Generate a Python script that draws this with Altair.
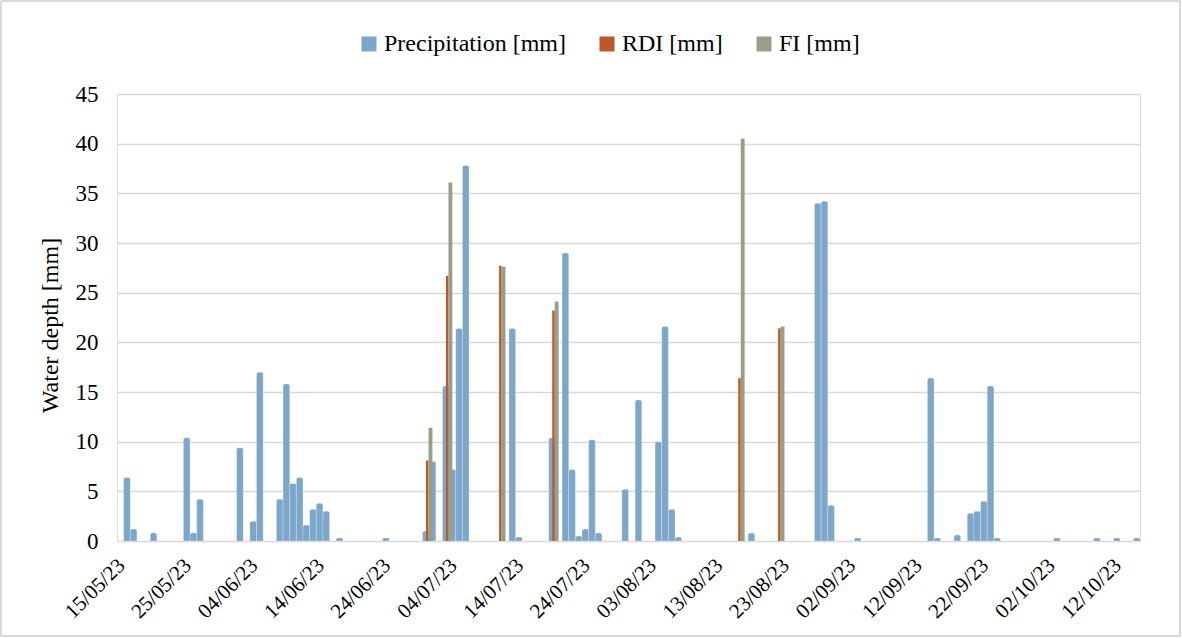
import altair as alt
import pandas as pd

# ---------------- data ----------------
start_date = "15/05/23"
end_date = "15/10/23"

precip_dates = [
    "16/05/23", "17/05/23", "20/05/23", "25/05/23", "26/05/23", "27/05/23",
    "02/06/23", "04/06/23", "05/06/23", "08/06/23", "09/06/23", "10/06/23",
    "11/06/23", "12/06/23", "13/06/23", "14/06/23", "15/06/23", "17/06/23",
    "24/06/23", "30/06/23", "01/07/23", "03/07/23", "04/07/23", "05/07/23",
    "06/07/23", "13/07/23", "14/07/23", "19/07/23", "21/07/23", "22/07/23",
    "23/07/23", "24/07/23", "25/07/23", "26/07/23", "30/07/23", "01/08/23",
    "04/08/23", "05/08/23", "06/08/23", "07/08/23", "18/08/23", "28/08/23",
    "29/08/23", "30/08/23", "03/09/23", "14/09/23", "15/09/23", "18/09/23",
    "20/09/23", "21/09/23", "22/09/23", "23/09/23", "24/09/23", "03/10/23",
    "09/10/23", "12/10/23", "15/10/23",
]
precip_values = [
    6.4, 1.2, 0.8, 10.4, 0.8, 4.2,
    9.4, 2.0, 17.0, 4.2, 15.8, 5.8,
    6.4, 1.6, 3.2, 3.8, 3.0, 0.3,
    0.3, 1.0, 8.0, 15.6, 7.2, 21.4,
    37.8, 21.4, 0.4, 10.4, 29.0, 7.2,
    0.5, 1.2, 10.2, 0.8, 5.2, 14.2,
    10.0, 21.6, 3.2, 0.4, 0.8, 34.0,
    34.2, 3.6, 0.3, 16.4, 0.3, 0.6,
    2.8, 3.0, 4.0, 15.6, 0.3, 0.3,
    0.3, 0.3, 0.3,
]

rdi_dates = ["30/06/23", "03/07/23", "11/07/23", "19/07/23", "16/08/23", "22/08/23"]
rdi_values = [8.1, 26.7, 27.7, 23.2, 16.4, 21.4]

fi_dates = ["30/06/23", "03/07/23", "11/07/23", "19/07/23", "16/08/23", "22/08/23"]
fi_values = [11.4, 36.1, 27.6, 24.1, 40.5, 21.6]

series_names = ["Precipitation [mm]", "RDI [mm]", "FI [mm]"]
series_colors = ["#7DA7CA", "#C0562A", "#95A087"]

tick_labels = [
    "15/05/23", "25/05/23", "04/06/23", "14/06/23", "24/06/23", "04/07/23",
    "14/07/23", "24/07/23", "03/08/23", "13/08/23", "23/08/23", "02/09/23",
    "12/09/23", "22/09/23", "02/10/23", "12/10/23",
]
y_ticks = [0, 5, 10, 15, 20, 25, 30, 35, 40, 45]

# ---------------- build tables ----------------
t0 = pd.to_datetime(start_date, format="%d/%m/%y")
n_days = (pd.to_datetime(end_date, format="%d/%m/%y") - t0).days + 1


def table(dates, values, name):
    d = pd.to_datetime(pd.Series(dates), format="%d/%m/%y")
    return pd.DataFrame({"series": name, "idx": (d - t0).dt.days, "value": values})


precip_df = table(precip_dates, precip_values, series_names[0])
rdi_df = table(rdi_dates, rdi_values, series_names[1])
fi_df = table(fi_dates, fi_values, series_names[2])

FONT = "Liberation Serif, Times New Roman, serif"
FS = 24
label_arr = "[" + ",".join("'%s'" % t for t in tick_labels) + "]"

x_scale = alt.Scale(domain=[-0.5, n_days - 0.5], nice=False, zero=False)
y_scale = alt.Scale(domain=[0, 45], nice=False)

color = alt.Color(
    "series:N",
    scale=alt.Scale(domain=series_names, range=series_colors),
    legend=alt.Legend(
        title=None, orient="none", direction="horizontal",
        legendX=240, legendY=-62,
        symbolType="square", symbolSize=225, symbolStrokeWidth=0,
        labelFont=FONT, labelFontSize=FS, labelColor="#000000", labelLimit=400,
        labelOffset=3, columnPadding=29,
    ),
)

x_axis = alt.Axis(
    values=list(range(0, 10 * len(tick_labels), 10)),
    labelExpr=label_arr + "[round(datum.value / 10)]",
    labelAngle=-45, labelAlign="right", labelBaseline="middle",
    labelPadding=21, labelOffset=1, labelFont=FONT, labelFontSize=21,
    labelColor="#000000", labelOverlap=False, labelFlush=False, labelBound=False,
    ticks=False, tickSize=0, domain=False, grid=False, title=None,
)
y_axis = alt.Axis(
    values=y_ticks, grid=True, gridColor="#D9D9D9", gridWidth=1.5,
    ticks=False, tickSize=0, domain=False,
    labelFont=FONT, labelFontSize=23, labelColor="#000000", labelPadding=19,
    title="Water depth [mm]", titleFont=FONT, titleFontSize=FS,
    titleFontWeight="normal", titleColor="#000000",
    titleAngle=270, titleX=-67, titleY=231, titleAlign="center",
    titleBaseline="middle",
)

precip = (
    alt.Chart(precip_df)
    .transform_calculate(x0="datum.idx - 0.5", x1="datum.idx + 0.5")
    .mark_bar(cornerRadiusTopLeft=2, cornerRadiusTopRight=2, stroke="#FFFFFF",
              strokeWidth=0.4, strokeOpacity=0.6)
    .encode(
        x=alt.X("x0:Q", scale=x_scale, axis=x_axis),
        x2="x1:Q",
        y=alt.Y("value:Q", scale=y_scale, axis=y_axis, stack=None),
        y2=alt.datum(0),
        color=color,
    )
)

rdi = (
    alt.Chart(rdi_df)
    .transform_calculate(x0="datum.idx + 0.02", x1="datum.idx + 0.4")
    .mark_bar()
    .encode(
        x=alt.X("x0:Q", scale=x_scale),
        x2="x1:Q",
        y=alt.Y("value:Q", scale=y_scale, stack=None),
        y2=alt.datum(0),
        color=color,
    )
)

fi = (
    alt.Chart(fi_df)
    .transform_calculate(x0="datum.idx + 0.4", x1="datum.idx + 0.98")
    .mark_bar()
    .encode(
        x=alt.X("x0:Q", scale=x_scale),
        x2="x1:Q",
        y=alt.Y("value:Q", scale=y_scale, stack=None),
        y2=alt.datum(0),
        color=color,
    )
)

frame = (
    alt.Chart(pd.DataFrame({"f": [0]}))
    .mark_rect(fill="transparent", stroke="#B4B4B4", strokeWidth=1)
    .encode(x=alt.value(-116), x2=alt.value(1063), y=alt.value(-93), y2=alt.value(542))
)

chart = (
    alt.layer(precip, rdi, fi, frame)
    .properties(
        width=1023, height=447,
        autosize=alt.AutoSizeParams(type="none"),
        padding={"left": 117, "top": 94, "right": 42, "bottom": 97},
        background="#FFFFFF",
    )
    .configure_view(strokeWidth=0, stroke="transparent")
    .configure(font=FONT)
)

chart.save("out.html", embed_options={"renderer": "svg", "actions": False})
